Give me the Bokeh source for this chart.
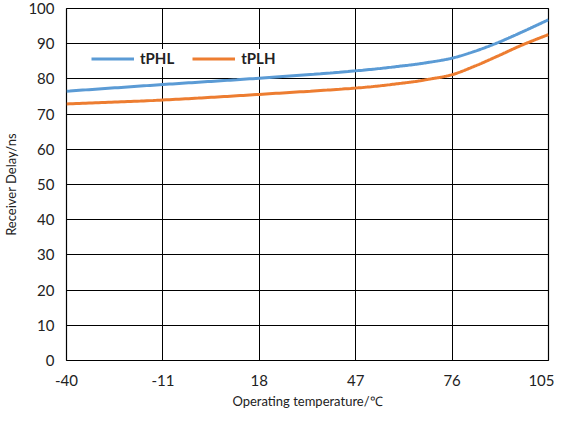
import numpy as np
from bokeh.plotting import figure
from bokeh.models import Legend, LegendItem, FixedTicker, Range1d
from bokeh.embed import file_html
from bokeh.resources import INLINE

# Data
temp_phl = [-40, -11, 18, 47, 62, 69, 76, 83, 90, 97, 105]
tphl = [76.5, 78.4, 80.2, 82.3, 83.8, 84.7, 85.9, 87.9, 90.4, 93.3, 96.8]
temp_plh = [-40, -11, 18, 47, 62, 69, 76, 83, 90, 97, 105]
tplh = [72.9, 74.0, 75.6, 77.4, 78.9, 79.9, 81.2, 83.7, 86.6, 89.6, 92.6]
x_ticks = [-40, -11, 18, 47, 76, 105]
x_tick_labels = ["-40", "-11", "18", "47", "76", "105"]
y_ticks = list(range(0, 101, 10))

FONT = "Lato"


def smooth(xs, ys, n=30):
    # Catmull-Rom curve through the read points (like a spreadsheet's smoothed line)
    xs = np.asarray(xs, float)
    ys = np.asarray(ys, float)
    px = np.concatenate([[2 * xs[0] - xs[1]], xs, [2 * xs[-1] - xs[-2]]])
    py = np.concatenate([[2 * ys[0] - ys[1]], ys, [2 * ys[-1] - ys[-2]]])
    ox, oy = [], []
    t = np.linspace(0, 1, n, endpoint=False)
    for i in range(1, len(px) - 2):
        for arr, out in ((px, ox), (py, oy)):
            p0, p1, p2, p3 = arr[i - 1], arr[i], arr[i + 1], arr[i + 2]
            out.extend(0.5 * ((2 * p1) + (-p0 + p2) * t + (2 * p0 - 5 * p1 + 4 * p2 - p3) * t ** 2
                              + (-p0 + 3 * p1 - 3 * p2 + p3) * t ** 3))
    ox.append(xs[-1]); oy.append(ys[-1])
    return ox, oy


p = figure(width=554, height=414, output_backend="svg", toolbar_location=None,
           x_range=Range1d(-40, 105), y_range=Range1d(0, 100),
           min_border_left=50, min_border_right=6, min_border_top=8, min_border_bottom=54)

p.outline_line_color = "black"
p.outline_line_width = 1.2
p.background_fill_color = "white"
p.border_fill_color = "white"

for ax in (p.xaxis[0], p.yaxis[0]):
    ax.axis_line_color = None
    ax.major_tick_line_color = None
    ax.minor_tick_line_color = None
    ax.major_label_text_font = FONT
    ax.major_label_text_font_size = "15px"
    ax.major_label_text_color = "#222222"
    ax.axis_label_text_font = FONT
    ax.axis_label_text_font_style = "normal"
    ax.axis_label_text_font_size = "13px"
    ax.axis_label_text_color = "#222222"

p.xaxis.ticker = FixedTicker(ticks=x_ticks)
p.xaxis.major_label_overrides = {t: l for t, l in zip(x_ticks, x_tick_labels)}
p.yaxis.ticker = FixedTicker(ticks=y_ticks)
p.xaxis.axis_label = "Operating temperature/℃"
p.yaxis.axis_label = "Receiver Delay/ns"
p.xaxis.major_label_standoff = 8
p.yaxis.major_label_standoff = 6
p.xaxis.axis_label_standoff = 4
p.yaxis.axis_label_standoff = 6

p.xgrid.ticker = FixedTicker(ticks=x_ticks)
p.ygrid.ticker = FixedTicker(ticks=y_ticks)
p.grid.grid_line_color = "black"
p.grid.grid_line_width = 1
p.grid.grid_line_alpha = 1

bx, by = smooth(temp_phl, tphl)
ox, oy = smooth(temp_plh, tplh)
r1 = p.line(bx, by, line_color="#5B9BD5", line_width=3)
r2 = p.line(ox, oy, line_color="#ED7D31", line_width=3)

legend = Legend(items=[LegendItem(label="tPHL", renderers=[r1]),
                       LegendItem(label="tPLH", renderers=[r2])],
                orientation="horizontal", location=(25, 293))
legend.background_fill_color = "white"
legend.background_fill_alpha = 1
legend.border_line_color = None
legend.label_text_font = FONT
legend.label_text_font_style = "bold"
legend.label_text_font_size = "15px"
legend.label_text_color = "#222222"
legend.glyph_width = 43
legend.glyph_height = 17
legend.label_height = 17
legend.label_standoff = 6
legend.spacing = 18
legend.padding = 20
legend.margin = 0
p.add_layout(legend, "center")

open("out.html", "w").write(file_html(p, INLINE))
